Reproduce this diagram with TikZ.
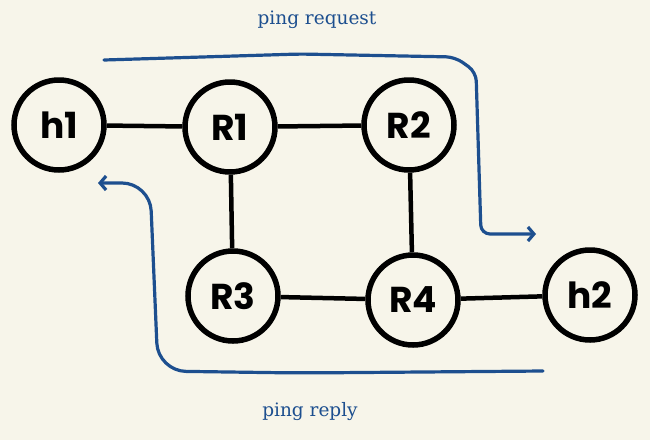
\documentclass[tikz,border=0pt]{standalone}
\usepackage{fontspec}
\setmainfont{DejaVu Serif}
\newfontfamily\handfont{Poppins}
\usepackage{xcolor}
\usepackage{tikz}
\usetikzlibrary{arrows.meta}
\definecolor{paper}{HTML}{F7F5EA}
\definecolor{pen}{HTML}{1D4F8F}

\begin{document}
\begin{tikzpicture}[x=1pt,y=-1pt]
\tikzstyle{router}=[circle, draw, line width=5.5pt, minimum size=90pt, inner sep=0pt, font=\handfont\bfseries\fontsize{36}{36}\selectfont]
\tikzstyle{link}=[line width=4.5pt]
\tikzstyle{ping}=[pen, line width=3.2pt, line cap=round, line join=round, -{Straight Barb[length=6pt,width=14pt,line width=3.2pt]}]
\tikzstyle{note}=[pen, font=\fontsize{18.5}{18.5}\selectfont]
\fill[paper] (0,0) rectangle (650,440);
\useasboundingbox (0,0) rectangle (650,440);

\node[router] (h1) at (59,125) {h1};
\node[router] (R1) at (230,127) {R1};
\node[router] (R2) at (409,125) {R2};
\node[router] (R3) at (233,296) {R3};
\node[router] (R4) at (413,300) {R4};
\node[router] (h2) at (590,295) {h2};

\path[link]
(h1) edge (R1)
(R1) edge (R2)
     edge (R3)
(R2) edge (R4)
(R3) edge (R4)
(R4) edge (h2);

% ping paths
\coordinate (rqs) at (104,60);
\coordinate (rqe) at (536,234);
\coordinate (rps) at (543,371);
\coordinate (rpe) at (98,183);
\draw[ping, rounded corners=9pt] (rqs) -- (300,54) -- (455,57) -- (476,72) -- (481,234) -- (rqe);
\draw[ping, rounded corners=28pt] (rps) -- (300,373) -- (158,371) -- (150,183) -- (rpe);

\node[note] (req) at (317,20) {ping request};
\node[note] (rep) at (310,412) {ping reply};
\end{tikzpicture}
\end{document}
